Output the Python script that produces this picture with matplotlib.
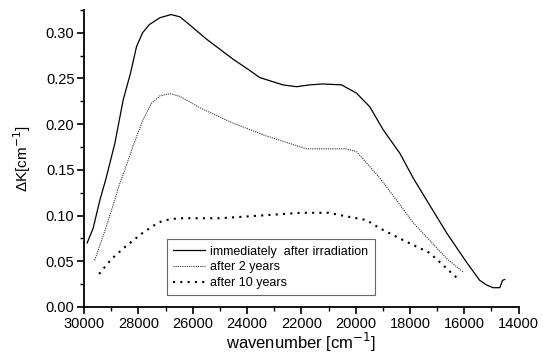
import matplotlib.pyplot as plt
from matplotlib.ticker import MultipleLocator

# immediately after irradiation
wn0 = [29890, 29670, 29420, 29200, 28870, 28560, 28300, 28070, 27850, 27600,
       27210, 26800, 26475, 25985, 25490, 25000, 24510, 23960, 23530, 22680,
       22180, 21700, 21210, 20520, 19970, 19480, 18990, 18370, 17880, 17390,
       16650, 15920, 15430, 15180, 14940, 14690, 14590, 14510]
dk0 = [0.070, 0.086, 0.117, 0.140, 0.179, 0.227, 0.255, 0.285, 0.300, 0.309,
       0.3165, 0.320, 0.3175, 0.3055, 0.293, 0.282, 0.271, 0.260, 0.251, 0.243,
       0.241, 0.243, 0.244, 0.243, 0.234, 0.219, 0.194, 0.168, 0.141, 0.117,
       0.081, 0.049, 0.029, 0.024, 0.021, 0.021, 0.029, 0.030]

# after 2 years
wn1 = [29610, 29240, 28990, 28690, 28500, 28200, 27830, 27520, 27210, 26840,
       26475, 25740, 24510, 23280, 21810, 20340, 19970, 19110, 18500, 17880,
       16650, 16040]
dk1 = [0.051, 0.083, 0.106, 0.135, 0.150, 0.176, 0.205, 0.223, 0.231, 0.2334,
       0.2304, 0.218, 0.201, 0.187, 0.173, 0.173, 0.170, 0.141, 0.117, 0.092,
       0.053, 0.038]

# after 10 years
wn2 = [29450, 29120, 28930, 28560, 28100, 27890, 27460, 27240, 26990, 26540,
       26000, 25000, 24000, 23000, 22000, 21000, 20500, 19600, 19110, 18250,
       17270, 16170]
dk2 = [0.036, 0.048, 0.054, 0.064, 0.075, 0.080, 0.0886, 0.0926, 0.095, 0.097,
       0.097, 0.097, 0.099, 0.101, 0.103, 0.103, 0.100, 0.095, 0.086, 0.073,
       0.059, 0.029]

plt.rcParams['font.family'] = ['Liberation Sans', 'DejaVu Sans']

fig = plt.figure(figsize=(5.43, 3.56), dpi=100)
ax = fig.add_axes([0.155, 0.138, 0.8, 0.834])

ax.plot(wn0, dk0, color='black', linewidth=0.9, label='immediately  after irradiation')
ax.plot(wn1, dk1, color='#333333', linewidth=0.8, linestyle=(0, (1, 1)), label='after 2 years')
ax.plot(wn2, dk2, color='black', linewidth=1.5, linestyle=(0, (1, 2.5)), label='after 10 years')

ax.set_xlim(30000, 14000)
ax.set_ylim(0, 0.325)
ax.xaxis.set_major_locator(MultipleLocator(2000))
ax.xaxis.set_minor_locator(MultipleLocator(1000))
ax.yaxis.set_major_locator(MultipleLocator(0.05))
ax.yaxis.set_minor_locator(MultipleLocator(0.025))
ax.yaxis.set_major_formatter(plt.FormatStrFormatter('%.2f'))
ax.spines['top'].set_visible(False)
ax.spines['right'].set_visible(False)
ax.spines['left'].set_linewidth(1.3)
ax.spines['bottom'].set_linewidth(1.3)
ax.tick_params(which='major', direction='out', length=5, width=1.2, labelsize=10.5, pad=2)
ax.tick_params(which='minor', direction='out', length=3, width=1.0)

ax.set_xlabel('wavenumber [cm$^{-1}$]', fontsize=12, labelpad=0)
ax.set_ylabel('ΔK[cm$^{-1}$]', fontsize=11, labelpad=9)

leg = ax.legend(loc='lower left', bbox_to_anchor=(0.19, 0.039), fontsize=9,
                fancybox=False, edgecolor='#666666', framealpha=1,
                handlelength=2.6, handletextpad=0.4, borderpad=0.5, labelspacing=0.3,
                borderaxespad=0)
leg.get_frame().set_linewidth(0.8)

fig.savefig('out.png', dpi=100)
